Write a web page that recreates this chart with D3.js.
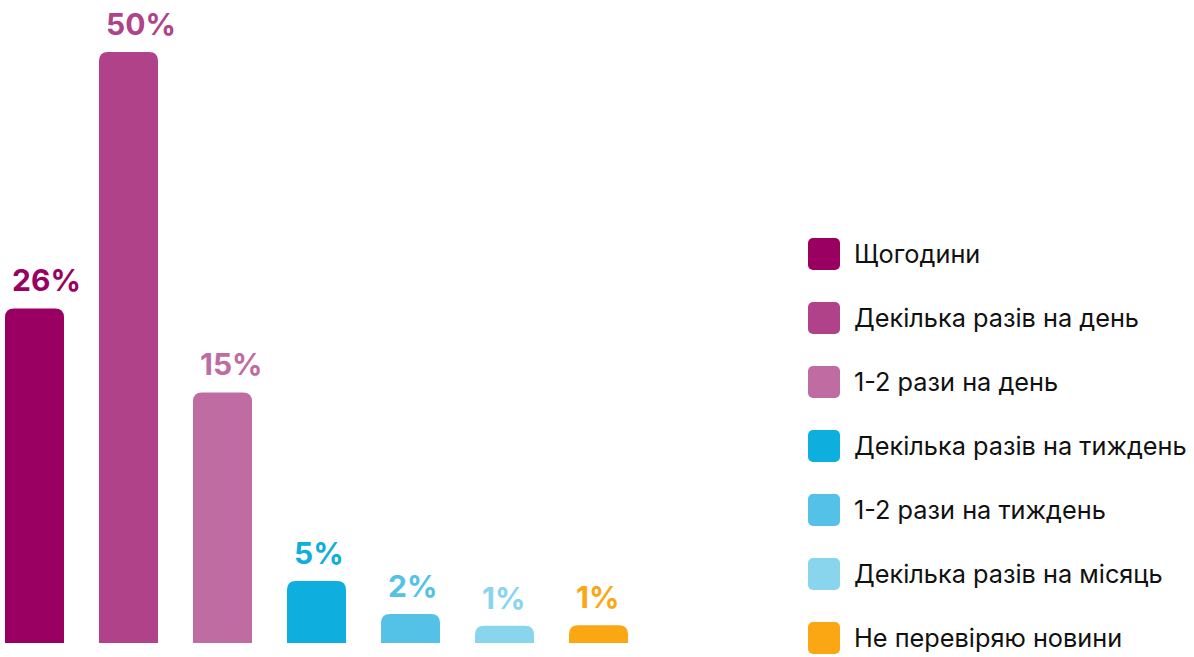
<!DOCTYPE html>
<html>
<head>
<meta charset="utf-8">
<script src="https://cdn.jsdelivr.net/npm/d3@7"></script>
<style>
  body { margin: 0; background: #fff; }
  svg { display: block; }
</style>
</head>
<body>
<div id="chart"></div>
<script>
// categories (legend order = bar order)
var categories = ["Щогодини", "Декілька разів на день", "1-2 рази на день",
                  "Декілька разів на тиждень", "1-2 рази на тиждень",
                  "Декілька разів на місяць", "Не перевіряю новини"];
// printed shares
var shares = [26, 50, 15, 5, 2, 1, 1];
// bar lengths as drawn in the original (not strictly proportional to the shares)
var barValues = [28.3, 50, 21.2, 5.25, 2.45, 1.45, 1.5];
var colors = ["#990061", "#af4289", "#bf6ca2", "#0eaede", "#54c2e6", "#89d5ee", "#fba714"];

const width = 1194, height = 657;
const baseY = 643, topY = 52;
const step = 94, barW = 59;

const svg = d3.select("#chart")
  .append("svg")
  .attr("width", width)
  .attr("height", height);

// x: one band per category
var x = d3.scaleBand()
  .domain(categories)
  .range([5, 5 + step * 6 + barW])
  .paddingInner(1 - barW / step)
  .paddingOuter(0);

var y = d3.scaleLinear()
  .domain([0, 50])
  .range([baseY, topY]);

// bar path with rounded top corners only
function barPath(x0, y0, w, h, r) {
  r = Math.min(r, h, w / 2);
  return "M" + x0 + "," + (y0 + h) +
    "V" + (y0 + r) +
    "Q" + x0 + "," + y0 + " " + (x0 + r) + "," + y0 +
    "H" + (x0 + w - r) +
    "Q" + (x0 + w) + "," + y0 + " " + (x0 + w) + "," + (y0 + r) +
    "V" + (y0 + h) + "Z";
}

var bars = svg.selectAll(".bar")
  .data(categories)
  .enter()
  .append("g")
  .attr("class", "bar");

bars.append("path")
  .attr("fill", function(d, i) { return colors[i]; })
  .attr("d", function(d, i) {
    var top = y(barValues[i]);
    return barPath(x(d), top, x.bandwidth(), baseY - top, 9);
  });

// value labels sit left-aligned a little inside the bar edge
bars.append("text")
  .text(function(d, i) { return shares[i] + "%"; })
  .attr("x", function(d) { return x(d) + 7; })
  .attr("y", function(d, i) { return y(barValues[i]) - 17; })
  .attr("fill", function(d, i) { return colors[i]; })
  .style("text-anchor", "start")
  .style("font-family", "Inter, 'Noto Sans', sans-serif")
  .style("font-weight", 700)
  .style("font-size", "30px");

// legend
var legend = svg.selectAll(".legend")
  .data(categories)
  .enter()
  .append("g")
  .attr("class", "legend")
  .attr("transform", function(d, i) { return "translate(808," + (238 + i * 64) + ")"; });

legend.append("rect")
  .attr("width", 32)
  .attr("height", 32)
  .attr("rx", 5)
  .attr("fill", function(d, i) { return colors[i]; });

legend.append("text")
  .text(function(d) { return d; })
  .attr("x", 46)
  .attr("y", 25)
  .attr("fill", "#111")
  .style("font-family", "Inter, 'Noto Sans', sans-serif")
  .style("font-size", "25.3px");
</script>
</body>
</html>
